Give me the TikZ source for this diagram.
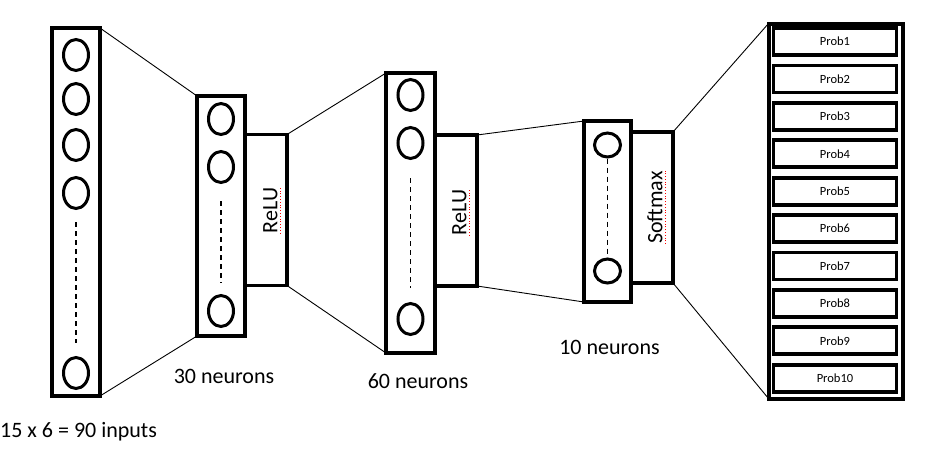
\documentclass[tikz,border=0pt]{standalone}
\usepackage{fontspec}
\setmainfont{Carlito}
\usetikzlibrary{positioning,shapes.geometric}

\begin{document}
\begin{tikzpicture}[
  x=1pt, y=-1pt,
  font=\fontsize{22}{26}\selectfont,
  layer/.style={draw, line width=3.8pt, minimum width=48pt, inner sep=0pt, outer sep=0pt},
  act/.style={layer, minimum width=42pt, minimum height=151pt},
  neuron/.style={draw, ellipse, line width=3pt, minimum width=25pt, minimum height=31pt, inner sep=0pt},
  neuronr/.style={neuron, minimum width=26pt, minimum height=24pt},
  dots/.style={line width=1.3pt, dash pattern=on 5pt off 4pt},
  conn/.style={line width=0.9pt},
  outbox/.style={draw, line width=4pt, minimum width=134pt, minimum height=375pt, inner sep=0pt, outer sep=0pt},
  prob/.style={draw, line width=3.8pt, minimum width=123pt, minimum height=27pt, font=\fontsize{12.5}{14}\selectfont},
  spell/.style={red, dotted, line width=0.8pt},
  lbl/.style={inner sep=0pt}
]
\useasboundingbox (0,0) rectangle (930,456);

% layers
\node[layer, minimum height=368pt] (inp) at (76,212) {};
\node[layer, minimum height=240pt] (hid1) at (221,216) {};
\node[act, right=0pt of hid1, yshift=6pt] (relu1) {};
\node[layer, minimum width=49pt, minimum height=280pt] (hid2) at (410.5,213) {};
\node[act, right=0pt of hid2, yshift=2.5pt] (relu2) {};
\node[layer, minimum width=47pt, minimum height=181pt] (hid3) at (607.5,211.5) {};
\node[act, right=0pt of hid3, yshift=4pt] (soft) {};
\node[outbox] (out) at (835.5,211) {};

% neurons
\node[neuron] (i1) at (76,55) {};
\node[neuron] (i2) at (76,99) {};
\node[neuron] (i3) at (76,145) {};
\node[neuron] (i4) at (76,193) {};
\node[neuron] (i5) at (76,373) {};
\draw[dots] (76,222) -- (76,343);

\node[neuron] (a1) at (221,119) {};
\node[neuron] (a2) at (221,167) {};
\node[neuron] (a3) at (221,311) {};
\draw[dots] (221,201) -- (221,283);

\node[neuron] (b1) at (410.5,95) {};
\node[neuron] (b2) at (410.5,143) {};
\node[neuron] (b3) at (410.5,319) {};
\draw[dots] (410.5,178) -- (410.5,288);

\node[neuronr] (c1) at (607.5,145) {};
\node[neuronr] (c2) at (607.5,271) {};
\draw[dots] (c1.south) -- (c2.north);

% activations
\node[lbl, rotate=90] (relu1txt) at (270.5,210.5) {ReLU};
\node[lbl, rotate=90] (relu2txt) at (459.5,212.5) {ReLU};
\node[lbl, rotate=90] (softtxt) at (655,207.5) {Softmax};
\draw[spell] ([xshift=3pt]relu1txt.south west) -- ([xshift=3pt]relu1txt.south east);
\draw[spell] ([xshift=3pt]relu2txt.south west) -- ([xshift=3pt]relu2txt.south east);
\draw[spell] ([xshift=3pt]softtxt.south west) -- ([xshift=3pt]softtxt.south east);

% outputs
\foreach \i in {1,...,10}
  \node[prob] (p\i) at (835, {41.5+37.4*(\i-1)}) {Prob\i};

% connections
\draw[conn] (inp.north east) -- (hid1.north west);
\draw[conn] (inp.south east) -- (hid1.south west);
\draw[conn] (relu1.north east) -- (hid2.north west);
\draw[conn] (relu1.south east) -- (hid2.south west);
\draw[conn] (relu2.north east) -- (hid3.north west);
\draw[conn] (relu2.south east) -- (hid3.south west);
\draw[conn] (soft.north east) -- (out.north west);
\draw[conn] (soft.south east) -- (out.south west);

% labels
\node[lbl, anchor=base west] (inlbl) at (0,437) {15 x 6 = 90 inputs};
\node[lbl, anchor=base] (lbl30) at (224,383) {30 neurons};
\node[lbl, anchor=base] (lbl60) at (418,388) {60 neurons};
\node[lbl, anchor=base] (lbl10) at (609.5,354) {10 neurons};
\end{tikzpicture}
\end{document}
